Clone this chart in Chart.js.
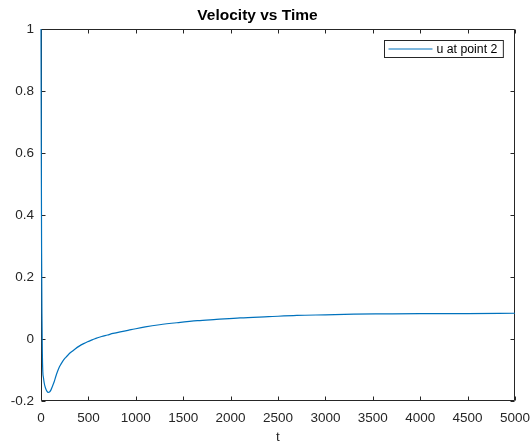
<!DOCTYPE html>
<html>
<head>
<meta charset="utf-8">
<script src="https://cdn.jsdelivr.net/npm/chart.js@4/dist/chart.umd.min.js"></script>
<style>
html,body{margin:0;padding:0;background:#fff;}
#wrap{width:531px;height:442px;position:relative;}
</style>
</head>
<body>
<div id="wrap"><canvas id="c" width="531" height="442"></canvas></div>
<script>
const titleText = "Velocity vs Time";
const xAxisLabel = "t";
const seriesLabel = "u at point 2";
const tValues = [0, 3, 6, 10, 14, 19, 26, 34, 42, 51, 62, 76, 90, 104, 120, 139, 156, 174, 190, 209, 235, 262, 290, 315, 360, 403, 450, 491, 540, 579, 640, 702, 760, 850, 950, 1100, 1250, 1450, 1650, 1850, 2100, 2400, 2700, 3000, 3300, 3600, 4000, 4500, 5000];
const uValues = [1.0, 0.62, 0.30, 0.08, -0.04, -0.105, -0.125, -0.142, -0.153, -0.161, -0.168, -0.172, -0.171, -0.165, -0.153, -0.138, -0.121, -0.105, -0.093, -0.082, -0.069, -0.059, -0.050, -0.043, -0.032, -0.023, -0.015, -0.009, -0.003, 0.002, 0.008, 0.013, 0.018, 0.024, 0.030, 0.039, 0.046, 0.053, 0.059, 0.063, 0.068, 0.072, 0.076, 0.078, 0.080, 0.081, 0.082, 0.082, 0.083];
const xTicks = [0, 500, 1000, 1500, 2000, 2500, 3000, 3500, 4000, 4500, 5000];
const yTicks = [-0.2, 0, 0.2, 0.4, 0.6, 0.8, 1];

const AXIS = '#262626';
const LINE = '#0072BD';

const points = tValues.map((t, i) => ({x: t, y: uValues[i]}));

function edges(chart) {
  const a = chart.chartArea;
  return {
    L: Math.round(a.left) + 0.5, R: Math.round(a.right) - 0.5,
    T: Math.round(a.top) + 0.5, B: Math.round(a.bottom) - 0.5
  };
}

const boxPlugin = {
  id: 'matlabBox',
  beforeDatasetsDraw(chart) {
    const ctx = chart.ctx;
    const xs = chart.scales.x, ys = chart.scales.y;
    const {L, R, T, B} = edges(chart);
    ctx.save();
    ctx.strokeStyle = AXIS;
    ctx.lineWidth = 1;
    ctx.beginPath();
    ctx.rect(L, T, R - L, B - T);
    ctx.stroke();
    const tl = 4;
    ctx.beginPath();
    xTicks.forEach(v => {
      const px = Math.round(xs.getPixelForValue(v)) + 0.5;
      ctx.moveTo(px, B); ctx.lineTo(px, B - tl);
      ctx.moveTo(px, T); ctx.lineTo(px, T + tl);
    });
    yTicks.forEach(v => {
      const py = Math.round(ys.getPixelForValue(v)) + 0.5;
      ctx.moveTo(L, py); ctx.lineTo(L + tl, py);
      ctx.moveTo(R, py); ctx.lineTo(R - tl, py);
    });
    ctx.stroke();
    ctx.restore();
  },
  afterDatasetsDraw(chart) {
    const ctx = chart.ctx;
    const {R, T} = edges(chart);
    const ds = chart.data.datasets[0];
    ctx.save();
    ctx.font = '12.3px "Liberation Sans", Arial, sans-serif';
    const tw = ctx.measureText(ds.label).width;
    const bw = 4 + 44 + 4 + tw + 6;
    const bh = 17;
    const bx = Math.round(R - 12 - bw) + 0.5;
    const by = Math.round(T + 10) + 0.5;
    ctx.fillStyle = '#fff';
    ctx.fillRect(bx, by, bw, bh);
    ctx.strokeStyle = AXIS;
    ctx.lineWidth = 1;
    ctx.strokeRect(bx, by, bw, bh);
    ctx.strokeStyle = ds.borderColor;
    ctx.lineWidth = 1.2;
    ctx.beginPath();
    ctx.moveTo(bx + 4, by + bh / 2);
    ctx.lineTo(bx + 48, by + bh / 2);
    ctx.stroke();
    ctx.fillStyle = '#000';
    ctx.textBaseline = 'middle';
    ctx.textAlign = 'left';
    ctx.fillText(ds.label, bx + 52, by + bh / 2 + 0.5);
    ctx.restore();
  }
};

new Chart(document.getElementById('c'), {
  type: 'line',
  data: {
    datasets: [{
      label: seriesLabel,
      data: points,
      borderColor: LINE,
      backgroundColor: LINE,
      borderWidth: 1.2,
      pointRadius: 0,
      fill: false,
      clip: 2,
      cubicInterpolationMode: 'monotone'
    }]
  },
  options: {
    responsive: false,
    animation: false,
    events: [],
    layout: {padding: {left: 0, right: 16, top: 0, bottom: 0}},
    plugins: {
      legend: {display: false},
      tooltip: {enabled: false},
      title: {
        display: true,
        text: titleText,
        color: '#000',
        font: {family: '"Liberation Sans", Arial, sans-serif', size: 15.5, weight: 'bold'},
        padding: {top: 6, bottom: 4.4}
      }
    },
    scales: {
      x: {
        type: 'linear',
        min: 0, max: 5000,
        afterBuildTicks: s => { s.ticks = xTicks.map(v => ({value: v})); },
        afterFit: s => { s.height = 41; s.paddingRight = 0; s.paddingLeft = 0; },
        grid: {display: false, drawTicks: false},
        border: {display: false},
        ticks: {
          color: AXIS,
          padding: 9,
          maxRotation: 0,
          font: {family: '"Liberation Sans", Arial, sans-serif', size: 13.5},
          callback: v => String(v)
        },
        title: {
          display: true,
          text: xAxisLabel,
          color: AXIS,
          padding: 0,
          font: {family: '"Liberation Sans", Arial, sans-serif', size: 13.5, lineHeight: 0.75}
        }
      },
      y: {
        type: 'linear',
        min: -0.2, max: 1,
        afterBuildTicks: s => { s.ticks = yTicks.map(v => ({value: v})); },
        afterFit: s => { s.width = 41; s.paddingTop = 0; s.paddingBottom = 0; },
        grid: {display: false, drawTicks: false},
        border: {display: false},
        ticks: {
          color: AXIS,
          padding: 7,
          font: {family: '"Liberation Sans", Arial, sans-serif', size: 13.5},
          callback: v => String(v)
        }
      }
    }
  },
  plugins: [boxPlugin]
});
</script>
</body>
</html>
